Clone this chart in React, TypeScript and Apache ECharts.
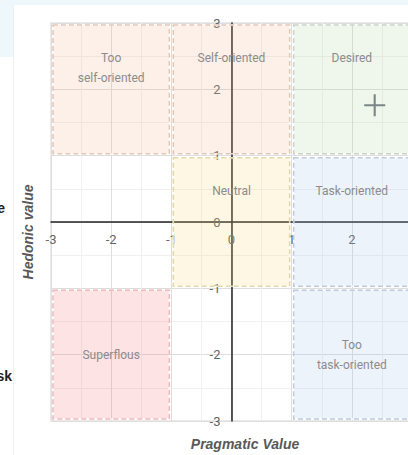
import React, { useEffect, useRef } from "react";
import * as echarts from "echarts";

// Regions (portfolio quadrants)
const regionNames = [
  "Too\nself-oriented",
  "Self-oriented",
  "Desired",
  "Neutral",
  "Task-oriented",
  "Superflous",
  "Too\ntask-oriented",
];
const regionX0 = [-3, -1, 1, -1, 1, -3, 1];
const regionX1 = [-1, 1, 3, 1, 3, -1, 3];
const regionY0 = [1, 1, 1, -1, -1, -3, -3];
const regionY1 = [3, 3, 3, 1, 1, -1, -1];

// Result point
const pointX = [2.38];
const pointY = [1.76];

// Styles
const regionFill = [
  "rgba(240,180,140,0.2)",
  "rgba(240,180,140,0.2)",
  "rgba(175,210,160,0.2)",
  "rgba(250,215,115,0.2)",
  "rgba(165,195,235,0.2)",
  "rgba(245,115,120,0.2)",
  "rgba(165,195,235,0.2)",
];
const regionStroke = ["#e3c6b6", "#e3c6b6", "#c9d2c5", "#e3d7a5", "#bccadb", "#f0b8ba", "#bccadb"];
const labelPlacement = ["top", "top", "top", "top", "top", "center", "center"];

const GRID_W = 361;
const GRID_H = 398;

export default function App() {
  const ref = useRef<HTMLDivElement>(null);

  useEffect(() => {
    if (!ref.current) return;
    const chart = echarts.init(ref.current, undefined, { renderer: "svg" });

    const regionData = regionNames.map((_, i) => [regionX0[i], regionX1[i], regionY0[i], regionY1[i], i]);

    const axisCommon = {
      type: "value",
      min: -3,
      max: 3,
      interval: 1,
      axisTick: { show: false },
      minorTick: { show: false, splitNumber: 2 },
      splitLine: { show: true, lineStyle: { color: "#dedede", width: 1 } },
      minorSplitLine: { show: true, lineStyle: { color: "#f0f0f0", width: 1 } },
    };

    const option: any = {
      animation: false,
      grid: {
        left: 51,
        top: 23,
        width: GRID_W,
        height: GRID_H,
        show: true,
        borderColor: "#e4e4e4",
        borderWidth: 1.5,
        backgroundColor: "transparent",
      },
      xAxis: {
        ...axisCommon,
        position: "bottom",
        offset: -GRID_H / 2,
        axisLabel: { color: "#666", fontSize: 13, margin: 11, fontFamily: "Roboto", showMaxLabel: false },
        axisLine: { onZero: false, lineStyle: { color: "#222", width: 1.5 } },
      },
      yAxis: {
        ...axisCommon,
        position: "left",
        offset: -GRID_W / 2,
        axisLabel: { color: "#666", fontSize: 13, margin: 11, fontFamily: "Roboto" },
        axisLine: { onZero: false, lineStyle: { color: "#222", width: 1.5 } },
      },
      graphic: {
        elements: [
          {
            type: "text",
            x: 245,
            y: 444,
            style: {
              text: "Pragmatic Value",
              fill: "#595959",
              font: "italic bold 14px 'Liberation Sans', Arial, sans-serif",
              align: "center",
              verticalAlign: "middle",
            },
          },
          {
            type: "text",
            x: 28,
            y: 232,
            rotation: Math.PI / 2,
            style: {
              text: "Hedonic value",
              fill: "#595959",
              font: "italic bold 14px 'Liberation Sans', Arial, sans-serif",
              align: "center",
              verticalAlign: "middle",
            },
          },
          {
            type: "text",
            x: 5,
            y: 208,
            style: {
              text: "e",
              fill: "#222",
              font: "bold 14px 'Liberation Sans', Arial, sans-serif",
              align: "right",
              verticalAlign: "middle",
            },
          },
          {
            type: "text",
            x: 12,
            y: 376,
            style: {
              text: "sk",
              fill: "#222",
              font: "bold 14px 'Liberation Sans', Arial, sans-serif",
              align: "right",
              verticalAlign: "middle",
            },
          },
        ],
      },
      series: [
        {
          type: "custom",
          clip: false,
          z: 2,
          data: regionData,
          renderItem: (params: any, api: any) => {
            const i = api.value(4);
            const p0 = api.coord([api.value(0), api.value(3)]);
            const p1 = api.coord([api.value(1), api.value(2)]);
            const inset = 2;
            const x = p0[0] + inset;
            const y = p0[1] + inset;
            const w = p1[0] - p0[0] - 2 * inset;
            const h = p1[1] - p0[1] - 2 * inset;
            const name = regionNames[i];
            const lines = name.split("\n").length;
            const lh = 20;
            const ty = labelPlacement[i] === "top" ? y + 33 - lh / 2 : y + h / 2 - (lines * lh) / 2;
            return {
              type: "group",
              children: [
                {
                  type: "rect",
                  shape: { x, y, width: w, height: h },
                  style: { fill: regionFill[i], stroke: "rgba(255,255,255,0.8)", lineWidth: 1.5 },
                },
                {
                  type: "rect",
                  shape: { x, y, width: w, height: h },
                  style: { fill: "none", stroke: regionStroke[i], lineWidth: 1.5, lineDash: [5, 3] },
                },
                {
                  type: "text",
                  x: x + w / 2,
                  y: ty,
                  style: {
                    text: name,
                    fill: "#8c8c8c",
                    fontSize: 12,
                    fontFamily: "Roboto",
                    align: "center",
                    verticalAlign: "top",
                    lineHeight: lh,
                  },
                },
              ],
            };
          },
        },
        {
          type: "scatter",
          z: 5,
          data: pointX.map((v, i) => [v, pointY[i]]),
          symbol: "path://M0,9H20V11H0Z M9,0H11V20H9Z",
          symbolSize: [21, 22],
          itemStyle: { color: "#5b6b6f" },
        },
      ],
    };

    chart.setOption(option);
    return () => chart.dispose();
  }, []);

  return (
    <div
      style={{
        position: "fixed",
        left: 0,
        top: 0,
        width: 408,
        height: 455,
        overflow: "hidden",
        background: "#ffffff",
      }}
    >
      <div
        style={{
          position: "absolute",
          left: 0,
          top: 0,
          width: 408,
          height: 57,
          background: "#eef7fb",
        }}
      />
      <div
        style={{
          position: "absolute",
          left: 13,
          top: 5,
          width: 420,
          height: 460,
          background: "#ffffff",
          borderLeft: "1px solid #f0f0f0",
        }}
      />
      <div ref={ref} style={{ position: "absolute", left: 0, top: 0, width: 440, height: 455 }} />
    </div>
  );
}
